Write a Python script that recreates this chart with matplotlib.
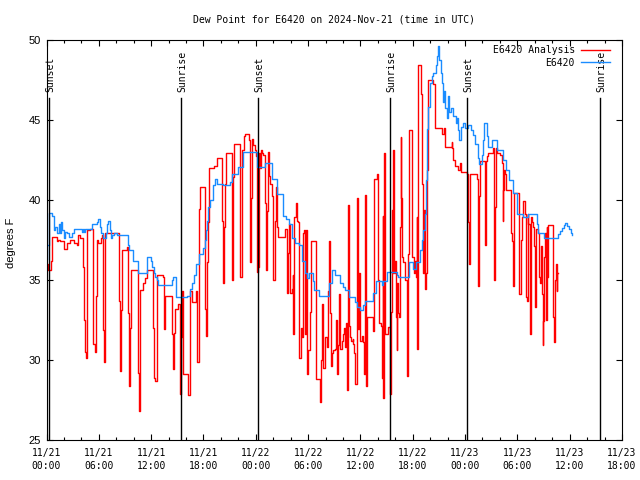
import matplotlib
matplotlib.use("Agg")
import matplotlib.pyplot as plt
from matplotlib.ticker import MultipleLocator, FixedLocator

# ---- data (hours since 2024-11-21 00:00 UTC) ----
obs_hours = [0.0, 0.1, 0.3, 0.59, 0.86, 0.97, 1.24, 1.43, 1.55, 1.62, 1.74, 2.0, 2.12, 2.39, 2.62, 2.89,
             3.15, 4.03, 4.15, 4.34, 4.41, 5.18, 5.75, 5.87, 6.14, 6.25, 6.52, 6.82, 6.9, 7.09, 7.28, 7.36,
             7.47, 7.74, 8.05, 9.38, 9.5, 9.96, 10.53, 11.49, 11.95, 12.06, 12.33, 12.44, 12.71, 12.82,
             14.35, 14.54, 14.85, 16.15, 16.46, 16.65, 16.9, 17.15, 17.5, 17.99, 18.15, 18.3, 18.37, 18.56,
             18.75, 19.06, 19.14, 19.33, 19.6, 20.28, 21.1, 21.24, 22.0, 22.5, 24.1, 25.06, 25.83, 26.48,
             27.09, 27.47, 27.85, 28.12, 28.5, 28.96, 29.27, 29.65, 29.84, 30.15, 30.6, 30.68, 31.3, 32.44,
             32.7, 33.1, 33.66, 34.04, 34.24, 34.73, 35.38, 35.57, 35.96, 36.26, 36.53, 37.41, 37.79, 38.44,
             38.63, 39.1, 40.16, 40.35, 41.61, 42.07, 42.38, 42.84, 43.03, 43.22, 43.41, 43.53, 43.68, 43.79,
             43.98, 44.17, 44.29, 44.67, 44.75, 44.94, 45.05, 45.21, 45.32, 45.44, 45.59, 45.74, 45.9, 46.01,
             46.2, 46.35, 46.66, 46.97, 47.12, 47.23, 47.35, 47.5, 47.73, 48.0, 48.38, 48.65, 48.95, 49.14,
             49.53, 49.64, 49.91, 50.02, 50.18, 50.48, 50.67, 51.06, 51.71, 52.39, 52.7, 53.08, 53.46, 53.92,
             54.0, 54.61, 55.26, 56.22, 56.41, 57.06, 58.5, 58.7, 58.9, 59.1, 59.3, 59.5, 59.7, 59.9, 60.1, 60.3]
obs_values = [36.3, 37.2, 39.2, 39.0, 38.1, 38.3, 37.9, 38.5, 37.9, 38.6, 38.1, 37.6, 38.0, 37.9, 37.7, 37.9,
              38.2, 38.0, 38.2, 38.0, 38.2, 38.5, 38.6, 38.8, 38.3, 37.9, 37.6, 37.9, 38.5, 38.7, 38.1, 37.6,
              37.8, 37.9, 37.8, 37.2, 36.85, 36.2, 35.4, 36.4, 36.2, 35.8, 35.4, 35.2, 35.0, 34.7,
              35.0, 35.2, 33.9, 34.0, 34.45, 34.8, 35.3, 36.0, 36.6, 37.0, 37.5, 38.1, 38.7, 39.55,
              40.0, 40.3, 40.9, 41.3, 41.0, 40.9, 41.1, 41.6, 42.05, 43.0, 42.05, 42.3, 41.3, 40.35,
              39.0, 38.8, 38.5, 37.6, 37.3, 37.2, 36.2, 35.4, 35.1, 35.4, 34.9, 34.35, 34.0, 34.8,
              35.6, 35.3, 34.8, 34.55, 34.35, 33.9, 33.6, 33.3, 33.1, 33.4, 33.7, 34.2, 34.9, 34.7,
              34.9, 35.5, 35.3, 35.2, 36.1, 35.7, 36.1, 36.85, 37.5, 38.1, 39.1, 41.2, 44.4, 45.8,
              47.3, 47.7, 47.9, 48.4, 49.0, 49.6, 48.7, 47.9, 47.3, 46.1, 46.8, 45.7, 45.1, 46.5,
              45.5, 45.7, 45.2, 44.8, 45.1, 44.35, 43.7, 44.55, 44.8, 44.45, 44.65, 44.35, 44.05, 43.5,
              42.6, 42.2, 42.8, 43.7, 44.8, 44.0, 43.3, 43.7, 43.1, 42.5, 41.85, 41.2, 40.4, 39.8,
              39.1, 38.9, 39.1, 38.5, 37.9, 37.6, 37.6, 37.85, 38.05, 38.25, 38.45, 38.55, 38.35, 38.15, 37.95, 37.8]

ana_hours = [0.0, 0.15, 0.52, 0.63, 1.17, 1.36, 1.55, 2.0, 2.39, 2.7, 3.19, 3.46, 3.65, 3.84, 4.22, 4.30,
             4.42, 4.53, 4.61, 4.68, 5.0, 5.3, 5.37, 5.56, 5.68, 5.75, 5.94, 6.21, 6.33, 6.52, 6.6, 6.71,
             8.35, 8.43, 8.5, 8.62, 9.27, 9.38, 9.46, 9.58, 9.65, 10.53, 10.65, 10.72, 11.1, 11.3, 11.49,
             12.18, 12.3, 12.45, 12.63, 13.4, 13.47, 13.59, 14.35, 14.47, 14.62, 14.74, 15.12, 15.31, 15.4,
             15.5, 15.69, 16.27, 16.5, 16.65, 17.2, 17.3, 17.45, 17.53, 17.6, 18.18, 18.3, 18.4, 18.56,
             18.68, 19.2, 19.6, 20.17, 20.28, 20.36, 20.47, 20.59, 21.24, 21.35, 21.43, 21.5, 22.2, 22.4,
             22.7, 22.77, 23.26, 23.34, 23.42, 23.53, 23.65, 23.73, 23.92, 24.03, 24.1, 24.18, 24.3, 24.37,
             24.49, 24.56, 24.68, 24.87, 25.06, 25.18, 25.33, 25.44, 25.56, 25.63, 25.83, 26.0, 26.2, 26.32,
             26.48, 26.6, 27.36, 27.55, 27.62, 27.74, 27.85, 27.93, 28.12, 28.24, 28.31, 28.43, 28.62,
             28.7, 28.89, 29.0, 29.15, 29.27, 29.38, 29.53, 29.65, 29.76, 29.84, 29.92, 30.03, 30.23, 30.34,
             30.91, 31.18, 31.37, 31.49, 31.6, 31.68, 31.75, 31.94, 32.21, 32.33, 32.44, 32.52, 32.6, 32.7,
             32.9, 33.09, 33.2, 33.28, 33.4, 33.59, 33.66, 33.85, 34.04, 34.12, 34.24, 34.35, 34.43, 34.5,
             34.62, 34.73, 34.81, 34.92, 35.11, 35.19, 35.3, 35.38, 35.57, 35.69, 35.88, 35.96, 36.15, 36.34,
             36.42, 36.53, 36.65, 36.72, 37.41, 37.56, 37.87, 38.06, 38.17, 38.33, 38.44, 38.56, 38.63,
             38.71, 38.82, 39.2, 39.4, 39.5, 39.59, 39.7, 39.78, 39.86, 39.97, 40.08, 40.16, 40.24, 40.35,
             40.45, 40.54, 40.62, 40.7, 40.81, 40.93, 41.12, 41.31, 41.38, 41.5, 41.61, 41.88, 41.96, 42.15,
             42.23, 42.38, 42.46, 42.53, 42.65, 42.91, 43.03, 43.14, 43.3, 43.41, 43.53, 43.6, 43.72, 44.37,
             44.56, 45.32, 45.59, 45.7, 46.47, 46.55, 46.66, 46.85, 47.23, 47.42, 47.54, 48.27, 48.38, 48.5,
             48.57, 49.34, 49.45, 49.53, 49.6, 49.72, 50.29, 50.41, 50.48, 50.67, 51.25, 51.32, 51.44, 51.55,
             51.63, 52.01, 52.2, 52.32, 52.39, 52.47, 52.6, 52.7, 53.27, 53.35, 53.54, 53.66, 54.23, 54.38,
             54.5, 54.69, 54.88, 54.99, 55.07, 55.18, 55.26, 55.45, 55.53, 55.64, 55.83, 55.91, 56.03, 56.14,
             56.41, 56.52, 56.6, 56.71, 56.79, 56.9, 56.98, 57.06, 57.17, 57.29, 57.36, 57.44, 57.55, 58.05,
             58.13, 58.2, 58.32, 58.43, 58.51, 58.59, 58.65]
ana_values = [36.0, 35.6, 36.2, 37.7, 37.4, 37.5, 37.4, 36.95, 37.3, 37.5, 37.3, 37.2, 37.8, 37.6, 35.8, 32.5,
              30.5, 30.1, 34.1, 38.1, 38.2, 34.5, 31.0, 30.5, 34.0, 37.5, 37.3, 37.6, 37.8, 31.85, 29.9, 37.9,
              33.7, 29.3, 33.1, 36.85, 37.05, 32.9, 28.4, 32.0, 35.6, 29.2, 26.8, 34.35, 34.8, 35.1, 35.6,
              32.0, 28.9, 28.7, 35.3, 35.2, 31.95, 34.0, 31.6, 29.45, 31.7, 33.2, 33.5, 27.9, 31.4,
              34.3, 29.1, 27.8, 34.3, 33.6, 34.3, 29.9, 31.2, 39.4, 40.8, 33.2, 31.5, 36.1, 38.6,
              42.0, 42.1, 42.6, 38.7, 34.8, 38.3, 41.0, 42.9, 35.0, 36.8, 41.4, 43.5, 35.2, 43.1,
              44.0, 44.1, 43.7, 36.1, 40.1, 43.8, 43.6, 43.4, 43.1, 42.7, 39.4, 35.5, 35.8, 42.9,
              42.0, 43.1, 42.9, 42.8, 39.8, 35.6, 39.3, 43.0, 41.5, 41.0, 40.2, 35.0, 38.7, 40.8,
              38.3, 37.7, 38.2, 35.6, 34.2, 36.7, 38.5, 34.2, 34.4, 35.3, 31.6, 38.9, 39.8,
              38.7, 38.6, 30.1, 32.0, 31.4, 37.9, 38.1, 31.6, 38.1, 32.5, 29.1, 30.6, 33.0, 37.4,
              28.8, 28.8, 27.4, 30.0, 33.5, 30.1, 29.5, 31.4, 30.8, 34.3, 37.4, 32.9, 29.6, 30.4,
              30.6, 30.7, 32.5, 29.1, 30.9, 34.1, 30.7, 31.2, 31.6, 32.0, 30.8, 32.3, 30.4, 28.1,
              39.7, 32.1, 31.4, 31.2, 31.3, 31.0, 30.4, 28.5, 40.1, 31.9, 35.4, 31.2, 31.5, 31.1,
              29.1, 40.3, 28.4, 32.7, 31.8, 41.3, 41.6, 35.0, 32.3, 32.1, 28.9, 39.0, 27.6,
              42.9, 31.6, 32.05, 27.9, 33.0, 39.35, 35.4, 43.1, 35.4, 36.2, 32.7, 30.6, 34.8, 32.9,
              32.7, 38.3, 43.9, 40.1, 36.4, 36.1, 35.0, 32.7, 29.0, 36.6, 44.35, 40.6, 36.4, 35.4,
              36.2, 35.2, 38.9, 30.7, 48.4, 46.6, 41.0, 35.4, 39.35, 34.4, 35.4, 41.85, 47.5, 47.2,
              44.45, 44.1, 44.45, 43.3, 43.6, 43.2, 42.5, 42.1, 41.85, 42.3, 41.7, 41.6, 38.6, 36.0,
              41.6, 41.3, 38.1, 34.6, 40.2, 42.4, 37.2, 42.4, 42.7, 42.9, 43.2, 35.0, 39.55, 43.2,
              42.9, 42.8, 42.3, 38.7, 40.6, 41.85, 41.6, 40.6, 37.9, 37.4, 34.6, 40.4, 34.1, 37.5,
              38.9, 39.95, 39.1, 33.9, 33.7, 39.1, 38.5, 31.6, 38.9, 38.6, 38.3, 37.1, 33.3, 38.2,
              37.9, 35.2, 34.8, 37.1, 34.1, 30.9, 32.4, 36.4, 37.9, 32.5, 38.3, 35.2, 38.4, 35.8,
              32.7, 31.1, 35.0, 36.0, 34.3, 35.4, 35.4]

sun_hours = [0.32, 15.4, 24.25, 39.4, 48.2, 63.5]
sun_labels = ["Sunset", "Sunrise", "Sunset", "Sunrise", "Sunset", "Sunrise"]

tick_hours = list(range(0, 67, 6))
tick_labels = ["11/21\n00:00", "11/21\n06:00", "11/21\n12:00", "11/21\n18:00",
               "11/22\n00:00", "11/22\n06:00", "11/22\n12:00", "11/22\n18:00",
               "11/23\n00:00", "11/23\n06:00", "11/23\n12:00", "11/23\n18:00"]

MONO = "DejaVu Sans Mono"
SANS = "Liberation Sans"

fig = plt.figure(figsize=(6.4, 4.8), dpi=100)
ax = fig.add_axes([46.5 / 640, 1 - 440 / 480, (622 - 46.5) / 640, (440 - 39.5) / 480])

ax.step(ana_hours, ana_values, where="post", color="#ff0000", lw=1.0, label="E6420 Analysis")
ax.step(obs_hours, obs_values, where="post", color="#1a8cff", lw=1.0, label="E6420")

for h, lab in zip(sun_hours, sun_labels):
    ax.plot([h, h], [25, 46.35], color="black", lw=1.0)
    ax.text(h + 0.15, 46.7, lab, rotation=90, ha="center", va="bottom",
            fontsize=7, family=MONO)

ax.set_xlim(0, 66)
ax.set_ylim(25, 50)
ax.xaxis.set_major_locator(FixedLocator(tick_hours))
ax.set_xticklabels(tick_labels, fontsize=7, family=MONO, linespacing=1.3)
ax.xaxis.set_minor_locator(MultipleLocator(2))
ax.yaxis.set_major_locator(MultipleLocator(5))
for lab in ax.get_yticklabels():
    lab.set_family(SANS)
    lab.set_fontsize(8)
ax.tick_params(axis="both", which="both", direction="in", top=True, right=True, width=0.8)
ax.tick_params(axis="both", which="major", length=4, pad=4)
ax.tick_params(axis="x", which="major", pad=6)
ax.tick_params(axis="x", which="minor", length=2)
for sp in ax.spines.values():
    sp.set_linewidth(0.8)

ax.set_ylabel("degrees F", fontsize=8, family=SANS)
ax.yaxis.set_label_coords(-0.053, 0.492)
fig.text(334 / 640, 1 - 19 / 480, "Dew Point for E6420 on 2024-Nov-21 (time in UTC)",
         ha="center", va="center", fontsize=7, family=MONO)

leg = ax.legend(loc="upper right", bbox_to_anchor=(0.979, 0.986), frameon=False,
                markerfirst=False, handlelength=3.0, handletextpad=0.6,
                labelspacing=0.25, borderaxespad=0, borderpad=0,
                prop={"family": MONO, "size": 7})

fig.savefig("out.png", dpi=100)
